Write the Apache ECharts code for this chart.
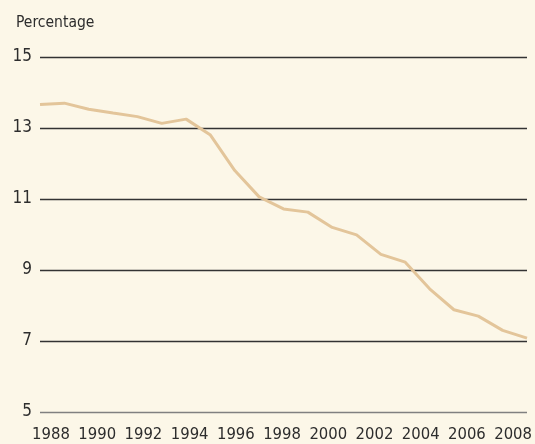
<!DOCTYPE html>
<html>
<head>
<meta charset="utf-8">
<script src="https://cdn.jsdelivr.net/npm/echarts@6/dist/echarts.min.js"></script>
<style>
  html, body { margin: 0; padding: 0; background: #fcf7e8; }
  #chart { width: 535px; height: 444px; }
</style>
</head>
<body>
<div id="chart"></div>
<script>
var years = [];
for (var y = 1988; y <= 2008; y++) years.push(String(y));
var yearLabels = ["1988", "1990", "1992", "1994", "1996", "1998", "2000", "2002", "2004", "2006", "2008"];
var percentage = [13.66, 13.70, 13.53, 13.42, 13.32, 13.13, 13.25, 12.80, 11.80, 11.06, 10.72,
  10.63, 10.20, 9.99, 9.44, 9.22, 8.47, 7.88, 7.70, 7.30, 7.08];

var font = "'DejaVu Sans Condensed', 'Liberation Sans', sans-serif";
var chart = echarts.init(document.getElementById("chart"));
chart.setOption({
  backgroundColor: "#fcf7e8",
  animation: false,
  title: {
    text: "Percentage",
    left: 11,
    top: 10,
    textStyle: { fontFamily: font, fontSize: 15.5, fontWeight: "normal", color: "#2d2d2d" }
  },
  grid: [
    { left: 40, right: 8, top: 57, bottom: 32 },
    { left: 51, right: 19, top: 57, bottom: 32 }
  ],
  xAxis: [
    {
      type: "category",
      gridIndex: 0,
      data: years,
      boundaryGap: false,
      axisLine: { show: false },
      axisTick: { show: false },
      axisLabel: { show: false }
    },
    {
      type: "category",
      gridIndex: 1,
      data: yearLabels,
      boundaryGap: false,
      axisLine: { show: false },
      axisTick: { show: false },
      axisLabel: { interval: 0, margin: 14, fontFamily: font, fontSize: 16.5, color: "#2d2d2d" }
    }
  ],
  yAxis: [
    {
      type: "value",
      gridIndex: 0,
      min: 5,
      max: 15,
      interval: 2,
      axisLine: { show: false },
      axisTick: { show: false },
      axisLabel: { margin: 8, fontFamily: font, fontSize: 17, color: "#2d2d2d" },
      splitLine: { lineStyle: { color: ["#808080", "#333", "#333", "#333", "#333", "#333"], width: 1.3 } }
    },
    { type: "value", gridIndex: 1, show: false, min: 5, max: 15 }
  ],
  series: [
    {
      type: "line",
      xAxisIndex: 0,
      yAxisIndex: 0,
      data: percentage,
      symbol: "none",
      lineStyle: { color: "#e3c59a", width: 3 }
    }
  ]
});
</script>
</body>
</html>
